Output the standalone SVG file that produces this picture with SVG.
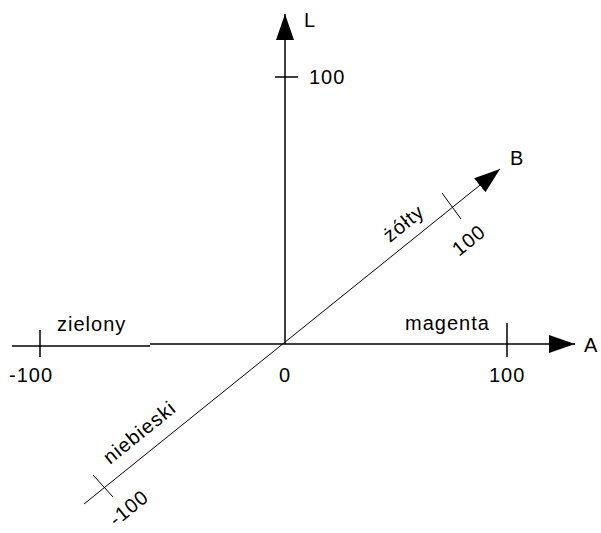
<svg xmlns="http://www.w3.org/2000/svg" width="601" height="533" viewBox="0 0 601 533">
<style>
.ax{stroke:#000;stroke-width:1.5;fill:none}
.dg{stroke:#000;stroke-width:1;fill:none}
.t{font-family:"Liberation Sans",Arial,sans-serif;font-size:20px;letter-spacing:1px;fill:#000}
</style>
<defs>
<marker id="ah" viewBox="0 0 26 18" refX="26" refY="9" markerWidth="26" markerHeight="18" markerUnits="userSpaceOnUse" orient="auto">
<path d="M0,0 L26,9 L0,18 Z" fill="#000"/>
</marker>
</defs>
<rect width="601" height="533" fill="#fff"/>
<g id="connectors">
<line class="ax" x1="285" y1="344" x2="285" y2="14" marker-end="url(#ah)"/>
<line class="ax" x1="12" y1="346" x2="150" y2="346"/>
<line class="ax" x1="150" y1="344" x2="575" y2="344" marker-end="url(#ah)"/>
<line class="dg" x1="84" y1="504" x2="500" y2="169" marker-end="url(#ah)"/>
<line class="ax" x1="275" y1="77" x2="298" y2="77"/>
<line class="ax" x1="40" y1="330" x2="40" y2="357"/>
<line class="ax" x1="507" y1="323" x2="507" y2="357"/>
<line class="dg" x1="442" y1="193" x2="461" y2="219"/>
<line class="dg" x1="93" y1="475" x2="113" y2="497"/>
</g>
<g id="labels">
<text class="t" x="304" y="27">L</text>
<text class="t" x="309" y="84">100</text>
<text class="t" x="510" y="165">B</text>
<text class="t" x="584" y="352" style="letter-spacing:0">A</text>
<text class="t" x="57" y="331">zielony</text>
<text class="t" x="405" y="330">magenta</text>
<text class="t" x="9" y="382">-100</text>
<text class="t" x="489" y="382">100</text>
<text class="t" x="279" y="382">0</text>
<text class="t" transform="translate(390,243) rotate(-39)">żółty</text>
<text class="t" transform="translate(459,257) rotate(-39)">100</text>
<text class="t" transform="translate(110,465) rotate(-39)">niebieski</text>
<text class="t" transform="translate(116,527) rotate(-39)">-100</text>
</g>
</svg>
